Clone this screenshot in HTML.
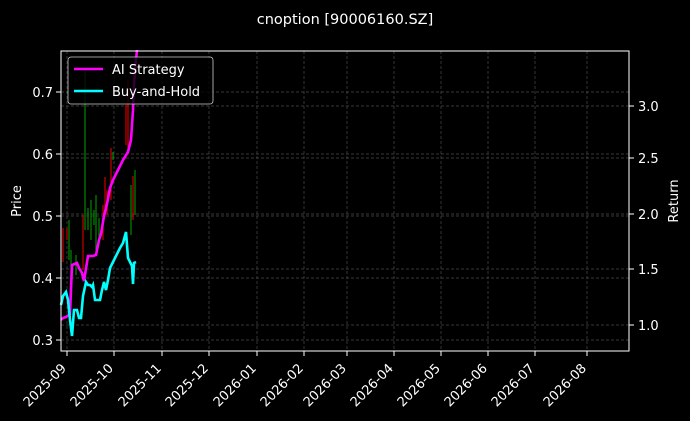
<!DOCTYPE html>
<html><head><meta charset="utf-8"><style>
html,body{margin:0;padding:0;background:#000;width:690px;height:421px;overflow:hidden}
svg text{font-family:"DejaVu Sans","Liberation Sans",sans-serif;fill:#fff}
</style></head><body>
<svg width="690" height="421" viewBox="0 0 690 421" xmlns="http://www.w3.org/2000/svg">
<rect width="690" height="421" fill="#000"/>
<text x="345" y="24" font-size="14.5" text-anchor="middle">cnoption [90006160.SZ]</text>
<g stroke="#4a4a4a" stroke-width="0.7" stroke-dasharray="3,2">
<line x1="61" x2="629" y1="92" y2="92"/><line x1="61" x2="629" y1="154" y2="154"/>
<line x1="61" x2="629" y1="216" y2="216"/><line x1="61" x2="629" y1="278" y2="278"/>
<line x1="61" x2="629" y1="340" y2="340"/>
<line x1="61" x2="629" y1="106" y2="106"/><line x1="61" x2="629" y1="158" y2="158"/>
<line x1="61" x2="629" y1="214" y2="214"/><line x1="61" x2="629" y1="269" y2="269"/>
<line x1="61" x2="629" y1="325" y2="325"/>
<line x1="67" x2="67" y1="51" y2="351"/><line x1="114" x2="114" y1="51" y2="351"/>
<line x1="162" x2="162" y1="51" y2="351"/><line x1="209" x2="209" y1="51" y2="351"/>
<line x1="257" x2="257" y1="51" y2="351"/><line x1="304" x2="304" y1="51" y2="351"/>
<line x1="347" x2="347" y1="51" y2="351"/><line x1="394" x2="394" y1="51" y2="351"/>
<line x1="441" x2="441" y1="51" y2="351"/><line x1="488" x2="488" y1="51" y2="351"/>
<line x1="535" x2="535" y1="51" y2="351"/><line x1="587" x2="587" y1="51" y2="351"/>
</g>
<g stroke-width="1.2">
<line x1="63" x2="63" y1="228" y2="262" stroke="#c00"/>
<line x1="67" x2="67" y1="228" y2="240" stroke="#c00"/>
<line x1="69" x2="69" y1="220" y2="260" stroke="#080"/>
<line x1="71" x2="71" y1="250" y2="280" stroke="#080"/>
<line x1="76" x2="76" y1="255" y2="275" stroke="#080"/>
<line x1="83" x2="83" y1="215" y2="270" stroke="#c00"/>
<line x1="85" x2="85" y1="70" y2="230" stroke="#080"/>
<line x1="88" x2="88" y1="208" y2="230" stroke="#080"/>
<line x1="91" x2="91" y1="200" y2="240" stroke="#080"/>
<line x1="94" x2="94" y1="210" y2="225" stroke="#080"/>
<line x1="96" x2="96" y1="195" y2="250" stroke="#080"/>
<line x1="99" x2="99" y1="218" y2="240" stroke="#080"/>
<line x1="103" x2="103" y1="205" y2="240" stroke="#c00"/>
<line x1="105" x2="105" y1="177" y2="215" stroke="#c00"/>
<line x1="107" x2="107" y1="190" y2="215" stroke="#c00"/>
<line x1="111" x2="111" y1="148" y2="200" stroke="#c00"/>
<line x1="113" x2="113" y1="152" y2="160" stroke="#080"/>
<line x1="126" x2="126" y1="105" y2="145" stroke="#c00"/>
<line x1="128" x2="128" y1="80" y2="150" stroke="#c00"/>
<line x1="131" x2="131" y1="185" y2="235" stroke="#080"/>
<line x1="133" x2="133" y1="176" y2="220" stroke="#c00"/>
<line x1="135" x2="135" y1="170" y2="215" stroke="#080"/>
</g>
<polyline fill="none" stroke="#ff00ff" stroke-width="2.6" points="61,320 63,318 66,317 70,314 72,265 77,263 79,268 82,273 84,281 88,256 93,256 96,255 99,240 101,234 104,216 107,204 110,188 113,180 118,170 123,160 128,152 131,140 133,110 134,85 136,60 137,50"/>
<polyline fill="none" stroke="#00ffff" stroke-width="2.6" points="61,305 63,296 66,292 68,300 70,320 72,336 74,310 77,310 79,318 81,318 83,296 86,282 88,285 90,285 92,287 93,285 95,300 98,300 100,300 102,290 104,282 106,290 108,280 110,268 113,262 116,256 120,248 123,243 126,232 128,258 130,262 132,266 133,284 134,263 136,262"/>
<rect x="61" y="51" width="568" height="300" fill="none" stroke="#fff" stroke-width="1"/>
<g stroke="#fff" stroke-width="1">
<line x1="56" x2="61" y1="92" y2="92"/><line x1="56" x2="61" y1="154" y2="154"/>
<line x1="56" x2="61" y1="216" y2="216"/><line x1="56" x2="61" y1="278" y2="278"/>
<line x1="56" x2="61" y1="340" y2="340"/>
<line x1="629" x2="634" y1="106" y2="106"/><line x1="629" x2="634" y1="158" y2="158"/>
<line x1="629" x2="634" y1="214" y2="214"/><line x1="629" x2="634" y1="269" y2="269"/>
<line x1="629" x2="634" y1="325" y2="325"/>
<line x1="67" x2="67" y1="351" y2="356"/><line x1="114" x2="114" y1="351" y2="356"/>
<line x1="162" x2="162" y1="351" y2="356"/><line x1="209" x2="209" y1="351" y2="356"/>
<line x1="257" x2="257" y1="351" y2="356"/><line x1="304" x2="304" y1="351" y2="356"/>
<line x1="347" x2="347" y1="351" y2="356"/><line x1="394" x2="394" y1="351" y2="356"/>
<line x1="441" x2="441" y1="351" y2="356"/><line x1="488" x2="488" y1="351" y2="356"/>
<line x1="535" x2="535" y1="351" y2="356"/><line x1="587" x2="587" y1="351" y2="356"/>
</g>
<g font-size="13" text-anchor="end">
<text x="53" y="97">0.7</text><text x="53" y="159">0.6</text><text x="53" y="221">0.5</text>
<text x="53" y="283">0.4</text><text x="53" y="345">0.3</text>
</g>
<g font-size="13">
<text x="638" y="111">3.0</text><text x="638" y="163">2.5</text><text x="638" y="219">2.0</text>
<text x="638" y="274">1.5</text><text x="638" y="330">1.0</text>
</g>
<text transform="translate(21,201) rotate(-90)" font-size="13" text-anchor="middle">Price</text>
<text transform="translate(678,201) rotate(-90)" font-size="13" text-anchor="middle">Return</text>
<g font-size="13" text-anchor="end">
<text transform="translate(67,369) rotate(-45)">2025-09</text>
<text transform="translate(114,369) rotate(-45)">2025-10</text>
<text transform="translate(162,369) rotate(-45)">2025-11</text>
<text transform="translate(209,369) rotate(-45)">2025-12</text>
<text transform="translate(257,369) rotate(-45)">2026-01</text>
<text transform="translate(304,369) rotate(-45)">2026-02</text>
<text transform="translate(347,369) rotate(-45)">2026-03</text>
<text transform="translate(394,369) rotate(-45)">2026-04</text>
<text transform="translate(441,369) rotate(-45)">2026-05</text>
<text transform="translate(488,369) rotate(-45)">2026-06</text>
<text transform="translate(535,369) rotate(-45)">2026-07</text>
<text transform="translate(587,369) rotate(-45)">2026-08</text>
</g>
<rect x="68" y="57" width="145" height="47" rx="3" fill="#000" fill-opacity="0.8" stroke="#ccc" stroke-width="0.8"/>
<line x1="74" x2="103" y1="69" y2="69" stroke="#ff00ff" stroke-width="2.6"/>
<line x1="74" x2="103" y1="91" y2="91" stroke="#00ffff" stroke-width="2.6"/>
<text x="112" y="74" font-size="13">AI Strategy</text>
<text x="112" y="96" font-size="13">Buy-and-Hold</text>
</svg>
</body></html>
